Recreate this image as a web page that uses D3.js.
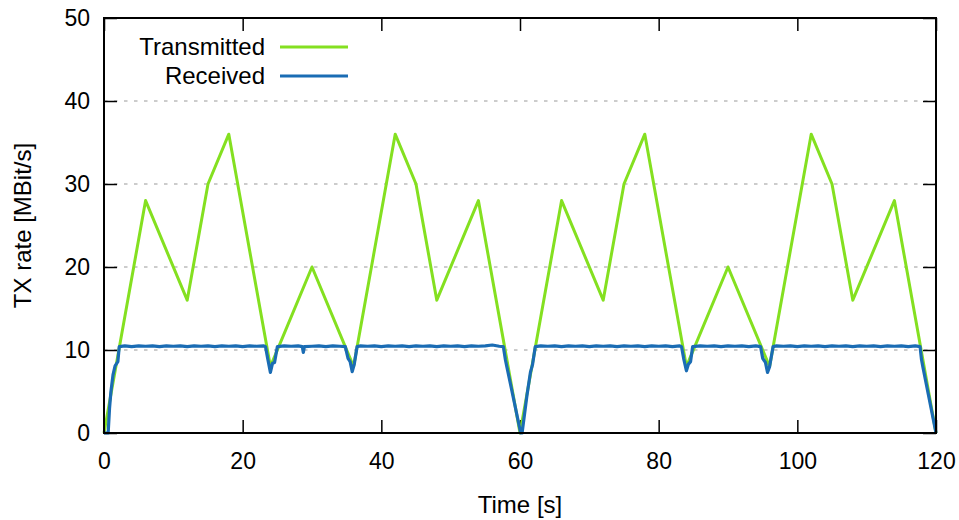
<!DOCTYPE html>
<html>
<head>
<meta charset="utf-8">
<script src="https://cdn.jsdelivr.net/npm/d3@7"></script>
<style>
  body { margin: 0; background: #fff; }
  svg { display: block; font-family: "Liberation Sans", Arial, sans-serif; }
</style>
</head>
<body>
<svg id="chart" width="959" height="520"></svg>
<script>
// ---- data ----
const xTicks = [0, 20, 40, 60, 80, 100, 120];
const yTicks = [0, 10, 20, 30, 40, 50];
const seriesNames = ["Transmitted", "Received"];

const transmitted = [
  [0, 0], [6, 28], [12, 16], [15, 30], [18, 36], [24, 8], [30, 20], [36, 8],
  [42, 36], [45, 30], [48, 16], [54, 28], [60, 0], [66, 28], [72, 16], [75, 30],
  [78, 36], [84, 8], [90, 20], [96, 8], [102, 36], [105, 30], [108, 16], [114, 28], [120, 0]
];

const received = [
  [0, 0], [0.6, 0], [0.8, 3], [1.0, 5], [1.3, 7], [1.6, 8.1], [2.0, 8.6], [2.2, 10.4],
  [3, 10.5], [4, 10.4], [5, 10.5], [6, 10.45], [7, 10.5], [8, 10.4], [9, 10.5], [10, 10.45],
  [11, 10.5], [12, 10.4], [13, 10.5], [14, 10.45], [15, 10.5], [16, 10.4], [17, 10.5],
  [18, 10.45], [19, 10.5], [20, 10.4], [21, 10.5], [22, 10.45], [23, 10.5],
  [23.3, 10.4], [23.6, 9.0], [24.0, 7.3], [24.3, 8.4], [24.6, 8.5], [25.0, 10.4],
  [26, 10.5], [27, 10.45], [28, 10.5], [28.6, 10.4], [28.75, 9.7], [28.9, 10.4],
  [30, 10.45], [31, 10.5], [32, 10.4], [33, 10.5], [34, 10.45],
  [34.8, 10.4], [35.2, 9.0], [35.5, 8.6], [35.8, 7.4], [36.1, 8.3], [36.5, 10.4],
  [37, 10.5], [38, 10.45], [39, 10.5], [40, 10.4], [41, 10.5], [42, 10.45], [43, 10.5],
  [44, 10.4], [45, 10.5], [46, 10.45], [47, 10.5], [48, 10.4], [49, 10.5], [50, 10.45],
  [51, 10.5], [52, 10.4], [53, 10.5], [54, 10.45], [55, 10.5], [56, 10.6], [57, 10.45],
  [57.6, 10.4], [57.9, 8.8], [58.1, 8.0], [60.1, 0], [60.3, 0], [61.0, 4.5], [61.5, 7.3],
  [61.8, 8.2], [62.2, 10.4],
  [63, 10.5], [64, 10.45], [65, 10.5], [66, 10.4], [67, 10.5], [68, 10.45], [69, 10.5],
  [70, 10.4], [71, 10.5], [72, 10.45], [73, 10.5], [74, 10.4], [75, 10.5], [76, 10.45],
  [77, 10.5], [78, 10.4], [79, 10.5], [80, 10.45], [81, 10.5], [82, 10.4], [83, 10.5],
  [83.3, 10.4], [83.6, 9.0], [84.0, 7.5], [84.3, 8.3], [84.6, 8.6], [84.9, 10.4],
  [86, 10.5], [87, 10.45], [88, 10.5], [89, 10.4], [90, 10.5], [91, 10.45], [92, 10.5],
  [93, 10.4], [94, 10.5],
  [94.7, 10.4], [95.0, 9.0], [95.4, 8.5], [95.7, 7.3], [96.0, 8.0], [96.5, 10.4],
  [97, 10.5], [98, 10.45], [99, 10.5], [100, 10.4], [101, 10.5], [102, 10.45], [103, 10.5],
  [104, 10.4], [105, 10.5], [106, 10.45], [107, 10.5], [108, 10.4], [109, 10.5], [110, 10.45],
  [111, 10.5], [112, 10.4], [113, 10.5], [114, 10.45], [115, 10.5], [116, 10.4], [117, 10.5],
  [117.7, 10.4], [117.9, 8.9], [118.1, 8.0], [120, 0]
];

const colors = ["#84e020", "#1a6cb4"];

// ---- layout ----
const svg = d3.select("#chart");
const L = 104, R = 936, T = 18, B = 433;
const x = d3.scaleLinear().domain([0, 120]).range([L, R]);
const y = d3.scaleLinear().domain([0, 50]).range([B, T]);
const fs = 23;
const fsTitle = 24;

// grid
svg.append("g").selectAll("line")
  .data(yTicks.filter(d => d > 0 && d < 50))
  .join("line")
  .attr("x1", L).attr("x2", R)
  .attr("y1", d => y(d)).attr("y2", d => y(d))
  .attr("stroke", "#999").attr("stroke-width", 1.2)
  .attr("stroke-dasharray", "3.5,6.5");

// axes
function styleAxis(g) {
  g.select(".domain").remove();
  g.selectAll(".tick line").attr("stroke", "#000").attr("stroke-width", 1.5);
  g.selectAll(".tick text").attr("fill", "#000").style("font-size", fs + "px")
    .style("font-family", "'Liberation Sans', Arial, sans-serif");
}
svg.append("g").attr("transform", `translate(0,${B})`)
  .call(d3.axisBottom(x).tickValues(xTicks).tickSize(-13).tickPadding(20))
  .call(styleAxis);
svg.append("g").attr("transform", `translate(0,${T})`)
  .call(d3.axisTop(x).tickValues(xTicks).tickSize(-13).tickFormat(""))
  .call(styleAxis);
svg.append("g").attr("transform", `translate(${L},0)`)
  .call(d3.axisLeft(y).tickValues(yTicks).tickSize(-13).tickPadding(14))
  .call(styleAxis);
svg.append("g").attr("transform", `translate(${R},0)`)
  .call(d3.axisRight(y).tickValues(yTicks).tickSize(-13).tickFormat(""))
  .call(styleAxis);

// lines
const line = d3.line().x(d => x(d[0])).y(d => y(d[1]));
svg.append("path").datum(transmitted).attr("d", line)
  .attr("fill", "none").attr("stroke", colors[0]).attr("stroke-width", 3)
  .attr("stroke-linejoin", "round");
svg.append("path").datum(received).attr("d", line)
  .attr("fill", "none").attr("stroke", colors[1]).attr("stroke-width", 3.2)
  .attr("stroke-linejoin", "round");

// border
svg.append("rect").attr("x", L).attr("y", T).attr("width", R - L).attr("height", B - T)
  .attr("fill", "none").attr("stroke", "#000").attr("stroke-width", 2);

// legend
const leg = svg.append("g");
seriesNames.forEach((name, i) => {
  const ly = 47 + i * 29;
  leg.append("text").attr("x", 265).attr("y", ly + 8)
    .attr("text-anchor", "end").style("font-size", fsTitle + "px").attr("fill", "#000")
    .text(name);
  leg.append("line").attr("x1", 280).attr("x2", 348).attr("y1", ly).attr("y2", ly)
    .attr("stroke", colors[i]).attr("stroke-width", 3);
});

// axis titles
svg.append("text").attr("x", (L + R) / 2).attr("y", 513)
  .attr("text-anchor", "middle").style("font-size", fsTitle + "px").text("Time [s]");
svg.append("text").attr("transform", `translate(31,${(T + B) / 2}) rotate(-90)`)
  .attr("text-anchor", "middle").style("font-size", fsTitle + "px").text("TX rate [MBit/s]");
</script>
</body>
</html>
